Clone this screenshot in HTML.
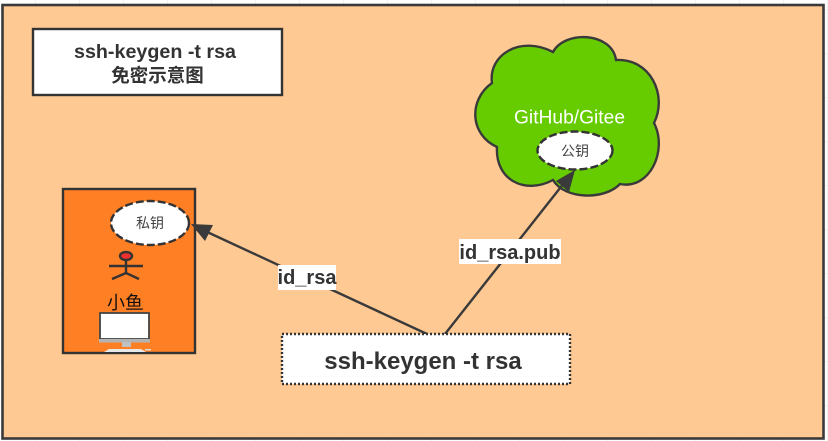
<!DOCTYPE html>
<html><head><meta charset="utf-8"><style>
html,body{margin:0;padding:0;background:#fff}
svg{display:block}
text{font-family:"Liberation Sans","Noto Sans CJK SC",sans-serif;text-anchor:middle}
</style></head><body>
<svg width="828" height="441" viewBox="0 0 828 441" xmlns="http://www.w3.org/2000/svg">
<defs><pattern id="g" width="44" height="44" patternUnits="userSpaceOnUse" x="-8" y="-34"><path d="M44 0V44M0 44H44" fill="none" stroke="#e4e4e4" stroke-width="1"/></pattern></defs>
<rect width="828" height="441" fill="#fff"/>
<rect width="828" height="441" fill="url(#g)"/>
<rect x="2.500" y="5" width="821" height="433.500" fill="#ffc993" stroke="#3a3a3a" stroke-width="2.600"/>
<rect x="33" y="29" width="249" height="66" fill="#fff" stroke="#333" stroke-width="2.400"/>
<text x="155" y="58" font-size="19.500" font-weight="700" fill="#333" textLength="162" lengthAdjust="spacingAndGlyphs">ssh-keygen -t rsa</text>
<text x="157.500" y="82" font-size="18.500" font-weight="700" fill="#333">免密示意图</text>

<rect x="63" y="189" width="132" height="164" fill="#ff7f24" stroke="#333" stroke-width="2.400"/>
<ellipse cx="150" cy="223" rx="39" ry="22" fill="#fff" stroke="#333" stroke-width="2.400" stroke-dasharray="8 3"/>
<text x="150" y="228" font-size="14" fill="#444">私钥</text>
<ellipse cx="126" cy="256" rx="6" ry="4" fill="#f03030" stroke="#333" stroke-width="2.400"/>
<path d="M126 260V274M109 266H143M112 279L126 273L139 279" fill="none" stroke="#333" stroke-width="2.400"/>
<text x="125" y="309" font-size="18" fill="#111">小鱼</text>
<path d="M127 309H143" stroke="#111" stroke-width="1"/>
<rect x="100" y="313" width="49" height="26" fill="#fff" stroke="#444" stroke-width="1.800"/>
<rect x="99" y="339" width="51" height="3.500" fill="#b4b4b4"/>
<rect x="122" y="342" width="9" height="5" fill="#c0c0c0"/>
<path d="M104 352L109 349H141L146 352Z" fill="#e8e8e8"/>
<rect x="145" y="349" width="6" height="1.500" fill="#ddd"/>

<path d="M492 83C488 55 520 35 553 52C565 30 612 32 616 60C650 58 668 95 654 123C668 150 650 190 620 184C605 200 565 200 553 180C525 195 495 180 497 147C470 135 468 100 492 83Z" fill="#66cc00" stroke="#3a3a3a" stroke-width="2.400"/>
<text x="569.500" y="123.500" font-size="19" fill="#fff" textLength="111" lengthAdjust="spacingAndGlyphs">GitHub/Gitee</text>
<ellipse cx="575" cy="150.500" rx="37.500" ry="19" fill="#fff" stroke="#333" stroke-width="2.400" stroke-dasharray="8 3"/>
<text x="575" y="156" font-size="14" fill="#444">公钥</text>

<path d="M427 334L205 231" stroke="#3a3a3a" stroke-width="2.400" fill="none"/>
<path d="M191 224L213 225L205 241Z" fill="#3a3a3a"/>
<path d="M445 334L564 183" stroke="#3a3a3a" stroke-width="2.400" fill="none"/>
<path d="M575 170L569 192L556 181Z" fill="#3a3a3a"/>

<rect x="278" y="265" width="58" height="25" fill="#fff"/>
<text x="307" y="284" font-size="20" font-weight="700" fill="#333">id_rsa</text>
<rect x="459" y="239" width="102" height="25" fill="#fff"/>
<text x="510" y="259" font-size="20" font-weight="700" fill="#333">id_rsa.pub</text>

<rect x="282" y="334" width="288" height="50" fill="#fff" stroke="#333" stroke-width="2.400" stroke-dasharray="2 2"/>
<text x="423" y="369" font-size="24" font-weight="700" fill="#333">ssh-keygen -t rsa</text>
</svg>
</body></html>
